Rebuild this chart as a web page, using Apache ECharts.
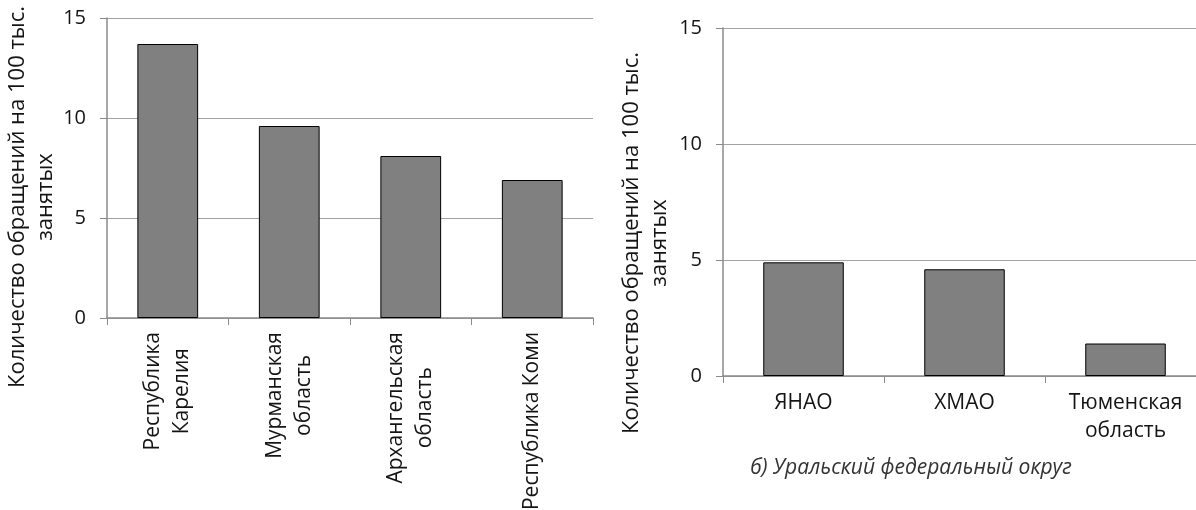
<!DOCTYPE html>
<html>
<head>
<meta charset="utf-8">
<script src="https://cdn.jsdelivr.net/npm/echarts@6/dist/echarts.min.js"></script>
<style>
  html, body { margin: 0; padding: 0; background: #fff; overflow: hidden; }
  #chart { width: 1196px; height: 510px; }
</style>
</head>
<body>
<div id="chart"></div>
<script>
// ---- data ----
const leftCategories = ['Республика\nКарелия', 'Мурманская\nобласть', 'Архангельская\nобласть', 'Республика Коми'];
const leftValues = [13.7, 9.6, 8.1, 6.9];
const rightCategories = ['ЯНАО', 'ХМАО', 'Тюменская\nобласть'];
const rightValues = [4.9, 4.6, 1.4];
const yTickValues = [0, 5, 10, 15];
const yAxisTitle = 'Количество обращений на 100 тыс.\nзанятых';
const rightCaption = 'б) Уральский федеральный округ';

// ---- styles ----
const FONT = '"Open Sans", "Noto Sans", sans-serif';
const TEXT_COLOR = '#141414';
const AXIS_COLOR = '#8a8a8a';
const GRID_COLOR = '#a3a3a3';

const chart = echarts.init(document.getElementById('chart'), null, { renderer: 'canvas' });

function yAxisCfg(gridIndex) {
  return {
    type: 'value',
    gridIndex: gridIndex,
    min: yTickValues[0],
    max: yTickValues[yTickValues.length - 1],
    interval: yTickValues[1] - yTickValues[0],
    axisLine: { show: true, lineStyle: { color: AXIS_COLOR, width: 1.5 } },
    axisTick: { show: true, length: 7, lineStyle: { color: AXIS_COLOR, width: 1 } },
    axisLabel: { color: TEXT_COLOR, fontSize: 20, fontFamily: FONT, margin: 21 },
    splitLine: { show: true, lineStyle: { color: GRID_COLOR, width: 1 } }
  };
}

function xAxisCfg(gridIndex, cats, rotated) {
  const cfg = {
    type: 'category',
    gridIndex: gridIndex,
    data: cats,
    axisLine: { show: true, lineStyle: { color: AXIS_COLOR, width: 1.5 } },
    axisTick: { show: true, length: 7, alignWithLabel: false, lineStyle: { color: AXIS_COLOR, width: 1 } },
    splitLine: { show: false },
    axisLabel: {
      interval: 0,
      color: TEXT_COLOR,
      fontSize: 21,
      fontFamily: FONT,
      lineHeight: 28,
      margin: 13
    }
  };
  if (rotated) {
    cfg.axisLabel.rotate = 90;
    cfg.axisLabel.margin = 14;
    cfg.axisLabel.lineHeight = 29;
    cfg.axisLabel.formatter = function (v) {
      return v.split('\n').map(function (s) { return '{c|' + s + '}'; }).join('\n');
    };
    cfg.axisLabel.rich = {
      c: { align: 'center', fontSize: 21, fontFamily: FONT, color: TEXT_COLOR, lineHeight: 29 }
    };
  }
  return cfg;
}

const barStyle = { color: '#808080', borderColor: '#000000', borderWidth: 1 };

chart.setOption({
  animation: false,
  backgroundColor: '#ffffff',
  grid: [
    { left: 107, top: 18, width: 486, height: 300, containLabel: false, outerBoundsMode: 'none' },
    { left: 723, top: 28, width: 483, height: 348, containLabel: false, outerBoundsMode: 'none' }
  ],
  xAxis: [
    xAxisCfg(0, leftCategories, true),
    xAxisCfg(1, rightCategories, false)
  ],
  yAxis: [yAxisCfg(0), yAxisCfg(1)],
  series: [
    { type: 'bar', xAxisIndex: 0, yAxisIndex: 0, data: leftValues, barWidth: '50%', itemStyle: barStyle },
    { type: 'bar', xAxisIndex: 1, yAxisIndex: 1, data: rightValues, barWidth: '50%', itemStyle: barStyle }
  ],
  graphic: [
    {
      type: 'text', x: 32, y: 197, rotation: Math.PI / 2,
      style: { text: yAxisTitle, fontSize: 22, fontFamily: FONT, fill: TEXT_COLOR, align: 'center', verticalAlign: 'middle', lineHeight: 28 }
    },
    {
      type: 'text', x: 646, y: 243, rotation: Math.PI / 2,
      style: { text: yAxisTitle, fontSize: 22, fontFamily: FONT, fill: TEXT_COLOR, align: 'center', verticalAlign: 'middle', lineHeight: 28 }
    },
    {
      type: 'text', x: 911, y: 468,
      style: { text: rightCaption, fontSize: 21, fontFamily: FONT, fontStyle: 'italic', fill: '#333333', align: 'center', verticalAlign: 'middle' }
    }
  ]
});
</script>
</body>
</html>
